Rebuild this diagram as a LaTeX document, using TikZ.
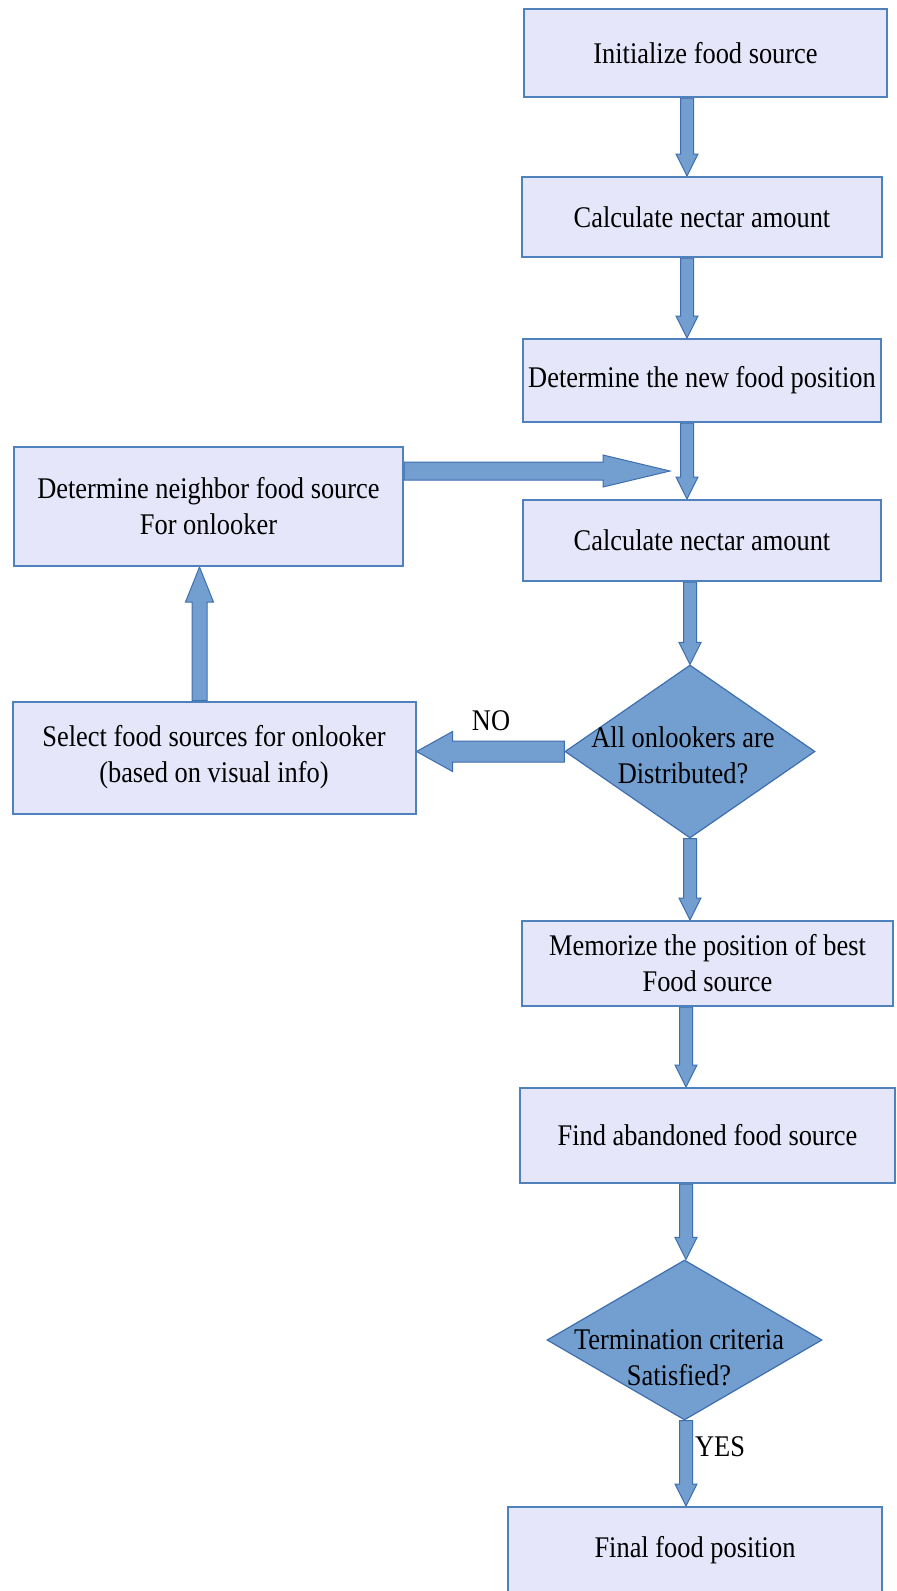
\documentclass[tikz,border=0pt]{standalone}
\usepackage{fontspec}
\setmainfont{Liberation Serif}[FakeStretch=0.88]
\usetikzlibrary{calc,shapes.geometric,backgrounds}
\definecolor{boxfill}{RGB}{230,230,250}
\definecolor{boxline}{RGB}{79,129,189}
\definecolor{arrfill}{RGB}{114,159,207}
\definecolor{arrline}{RGB}{62,110,175}
\definecolor{dfill}{RGB}{114,159,207}
\newcommand\barrow[5]{% start, end, half shaft, half head, head length
  \coordinate (ba) at (#1);
  \coordinate (bb) at (#2);
  \coordinate (bh) at ($(bb)!#5!(ba)$);
  \filldraw[arr] ($(ba)!#3!90:(bb)$) -- ($(bh)!#3!-90:(ba)$) -- ($(bh)!#4!-90:(ba)$)
    -- (bb) -- ($(bh)!#4!90:(ba)$) -- ($(bh)!#3!90:(ba)$) -- ($(ba)!#3!-90:(bb)$) -- cycle;
}
\begin{document}
\begin{tikzpicture}[x=0.5pt,y=-0.5pt,
  txt/.style={font=\fontsize{15}{18}\selectfont, text=black},
  proc/.style={txt, draw=boxline, fill=boxfill, line width=1pt, inner sep=0pt, align=center},
  dec/.style={diamond, draw=arrline, fill=dfill, line width=0.6pt, inner sep=0pt},
  dtext/.style={txt, align=center, inner sep=0pt},
  arr/.style={fill=arrfill, draw=arrline, line width=0.5pt, line join=miter},
  lbl/.style={txt, inner sep=0pt}]
\useasboundingbox (0,0) rectangle (896,1591);

\node[proc, minimum width=181.5pt, minimum height=44pt] (B1) at (705.5,53) {Initialize food source};
\node[proc, minimum width=180pt, minimum height=40pt] (B2) at (702,217) {Calculate nectar amount};
\node[proc, minimum width=179pt, minimum height=41.5pt] (B3) at (702,380.5) {Determine the new food position};
\node[proc, minimum width=179pt, minimum height=40.5pt] (B4) at (702,540.5) {Calculate nectar amount};
\node[dec, minimum width=125pt, minimum height=86.5pt] (D1) at (690,751.5) {};
\node[dtext] (D1t) at (683,755) {All onlookers are\\Distributed?};
\node[proc, minimum width=185.5pt, minimum height=42.5pt] (B5) at (707.5,963.5) {Memorize the position of best\\Food source};
\node[proc, minimum width=187.5pt, minimum height=47.5pt] (B6) at (707.5,1135.5) {Find abandoned food source};
\node[dec, minimum width=137.5pt, minimum height=80pt] (D2) at (684.5,1340) {};
\node[dtext] (D2t) at (679,1358) {Termination criteria\\Satisfied?};
\node[proc, minimum width=187pt, minimum height=43pt] (B7) at (695,1550) {Final food position};
\node[proc, minimum width=194.5pt, minimum height=59.5pt] (N) at (208.5,506.5) {Determine neighbor food source\\For onlooker};
\node[proc, minimum width=201.5pt, minimum height=56pt] (S) at (214,757.5) {Select food sources for onlooker\\(based on visual info)};

\node[lbl] (no) at (491,721) {NO};
\node[lbl] (yes) at (720,1447) {YES};

\coordinate (sp) at (687,0);
\coordinate (sp2) at (686,0);
\coordinate (upx) at (199.5,0);
\coordinate (htip) at (670,471);

\begin{scope}[on background layer]
\barrow{B1.south -| sp}{B2.north -| sp}{3.25pt}{5.5pt}{11pt}
\barrow{B2.south -| sp}{B3.north -| sp}{3.25pt}{5.5pt}{11pt}
\barrow{B3.south -| sp}{B4.north -| sp}{3.25pt}{5.5pt}{11pt}
\barrow{B4.south -| D1}{D1.north}{3.25pt}{5.5pt}{11pt}
\barrow{D1.south}{B5.north -| D1}{3.25pt}{5.5pt}{11pt}
\barrow{B5.south -| sp2}{B6.north -| sp2}{3.25pt}{5.5pt}{11pt}
\barrow{B6.south -| sp2}{D2.north -| sp2}{3.25pt}{5.5pt}{11pt}
\barrow{D2.south -| sp2}{B7.north -| sp2}{3.25pt}{5.5pt}{11pt}
\barrow{N.east |- htip}{htip}{4.5pt}{8pt}{33.5pt}
\barrow{D1.west}{S.east |- D1.west}{5.25pt}{10pt}{18pt}
\barrow{S.north -| upx}{N.south -| upx}{3.75pt}{7pt}{17.5pt}
\end{scope}
\end{tikzpicture}
\end{document}
